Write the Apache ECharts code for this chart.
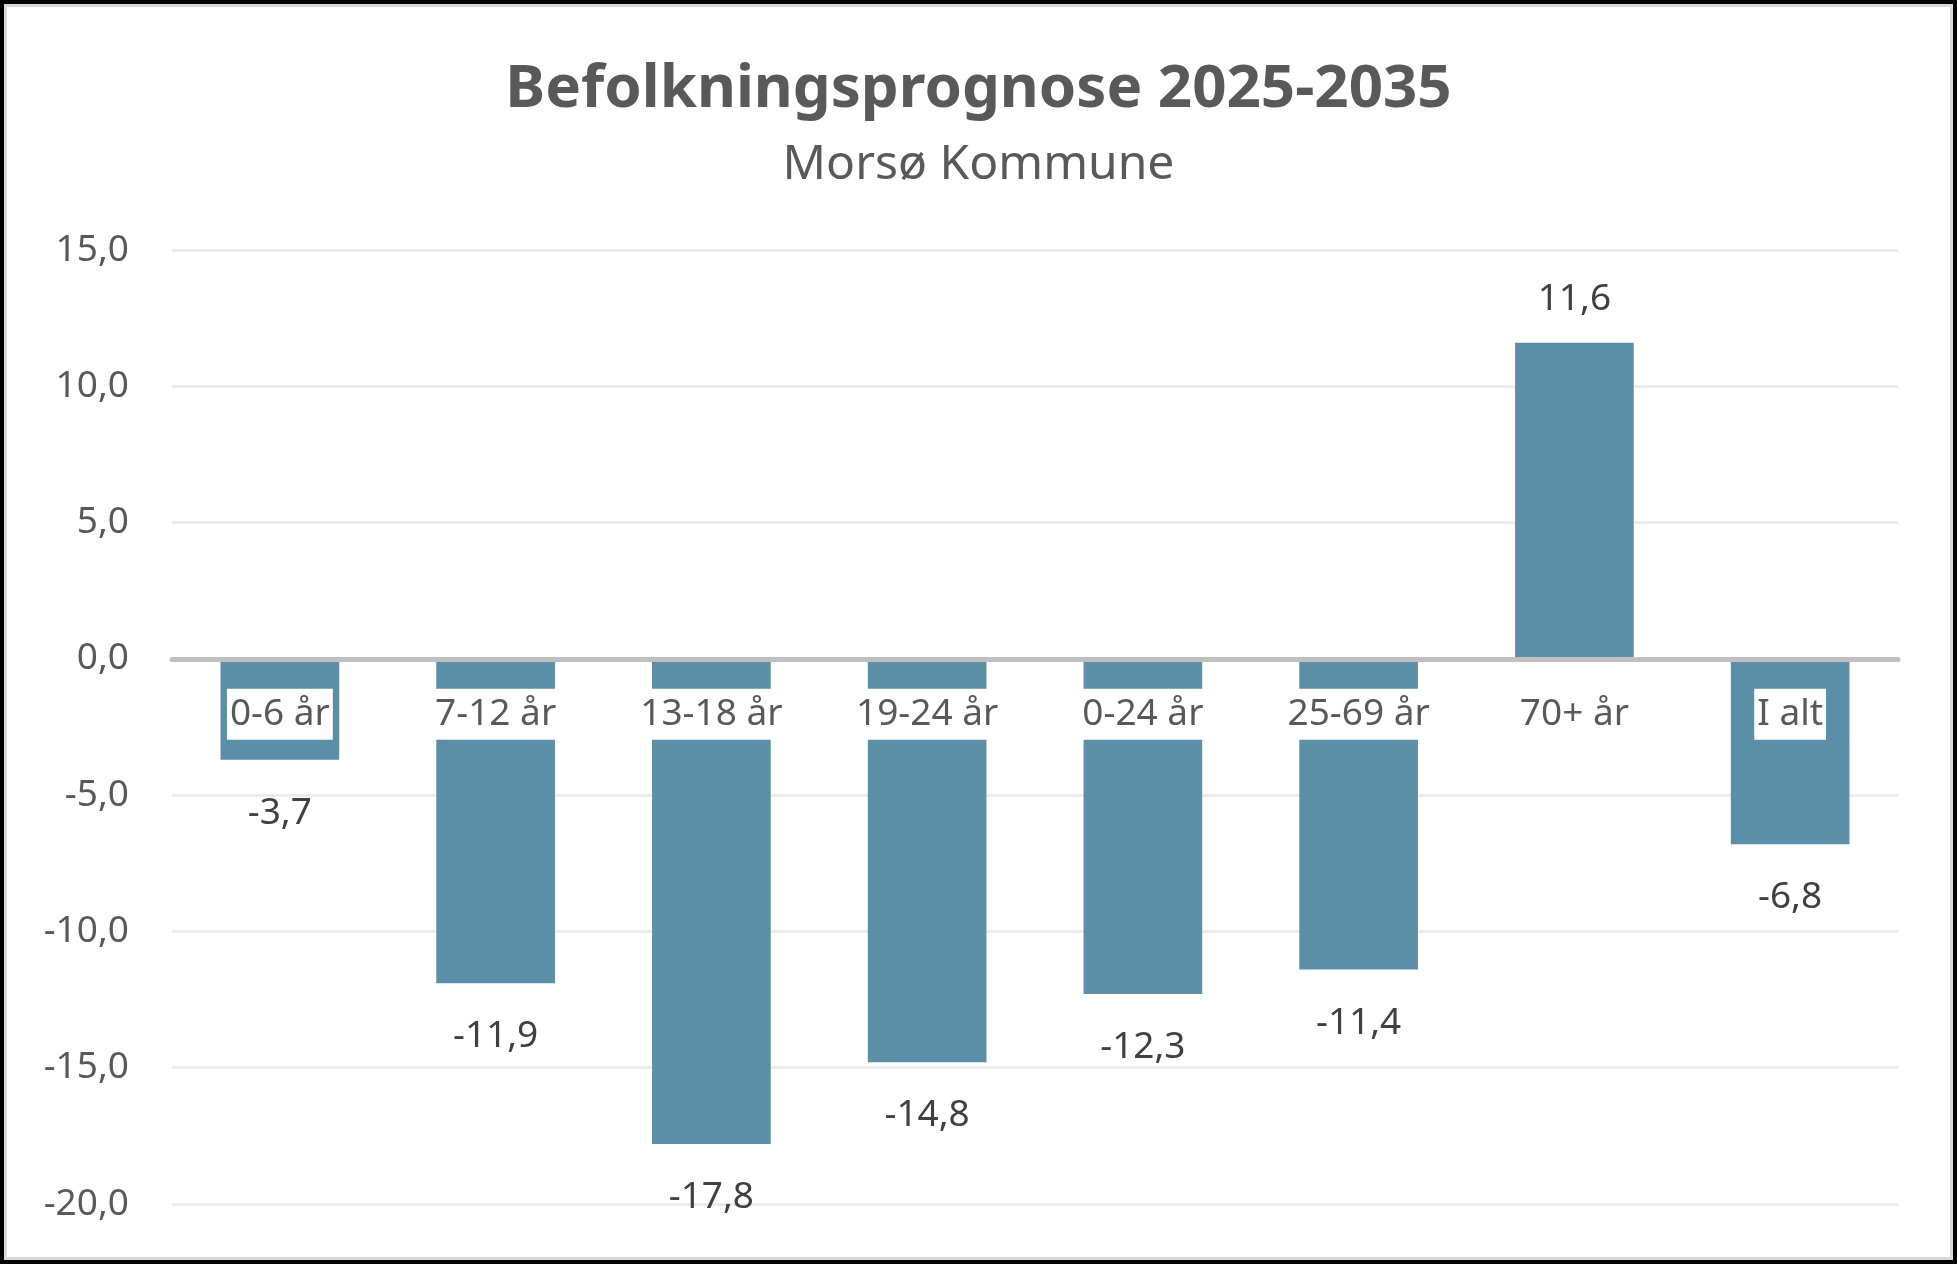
<!DOCTYPE html>
<html>
<head>
<meta charset="utf-8">
<script src="https://cdn.jsdelivr.net/npm/echarts@6/dist/echarts.min.js"></script>
<style>
    html, body { margin: 0; padding: 0; background: #fff; }
    #chart { width: 1957px; height: 1264px; }
    #frame {
        position: absolute; left: 0; top: 0;
        width: 1957px; height: 1264px; box-sizing: border-box;
        border: 4px solid #000;
        box-shadow: inset 0 0 0 3px #d9d9d9;
        pointer-events: none;
    }
</style>
</head>
<body>
<div id="chart"></div>
<div id="frame"></div>
<script>
// aldersgrupper
const categories = ['0-6 år', '7-12 år', '13-18 år', '19-24 år', '0-24 år', '25-69 år', '70+ år', 'I alt'];
// ændring i procent 2025-2035
const values = [-3.7, -11.9, -17.8, -14.8, -12.3, -11.4, 11.6, -6.8];
// y-akse
const yTicks = { min: -20, max: 15, step: 5 };

const fmt = function (v) {
    return v.toFixed(1).replace('.', ',');
};

const gridTop = 250, gridBottom = 60;
const gridHeight = 1264 - gridTop - gridBottom;
// x-aksen ligger på 0-linjen, flyttes op fra bunden
const zeroOffset = -gridHeight * (0 - yTicks.min) / (yTicks.max - yTicks.min);

let myChart = echarts.init(document.getElementById('chart'));
myChart.setOption({
    animation: false,
    textStyle: { fontFamily: 'Noto Sans' },
    title: [{
        text: 'Befolkningsprognose 2025-2035',
        left: 'center',
        top: 55,
        textStyle: { fontSize: 60, fontWeight: 'bold', color: '#595959', lineHeight: 60, fontFamily: 'Noto Sans' }
    }, {
        text: 'Morsø Kommune',
        left: 'center',
        top: 136,
        textStyle: { fontSize: 48, fontWeight: 'normal', color: '#595959', lineHeight: 48, fontFamily: 'Noto Sans' }
    }],
    grid: {
        left: 172,
        right: 59,
        top: gridTop,
        bottom: gridBottom,
        outerBoundsMode: 'none',
        containLabel: false
    },
    xAxis: {
        type: 'category',
        data: categories,
        z: 10,
        position: 'bottom',
        offset: zeroOffset,
        axisLine: { onZero: false, lineStyle: { color: '#bfbfbf', width: 5 } },
        axisTick: { show: false },
        axisLabel: {
            interval: 0,
            margin: 30,
            fontSize: 37,
            color: '#595959',
            backgroundColor: '#fff',
            padding: [7, 3]
        }
    },
    yAxis: {
        type: 'value',
        min: yTicks.min,
        max: yTicks.max,
        interval: yTicks.step,
        axisLine: { show: false },
        axisTick: { show: false },
        splitLine: { lineStyle: { color: '#ececec', width: 3 } },
        axisLabel: {
            margin: 43,
            fontSize: 37,
            color: '#595959',
            formatter: fmt
        }
    },
    series: [{
        type: 'bar',
        barCategoryGap: '45%',
        itemStyle: { color: '#5b8ea7' },
        label: {
            show: true,
            fontSize: 37,
            color: '#404040',
            formatter: function (p) { return fmt(p.value); }
        },
        data: values.map(function (v) {
            return {
                value: v,
                label: v < 0 ? { position: 'bottom', distance: 35 } : { position: 'top', distance: 25 }
            };
        })
    }]
});
</script>
</body>
</html>
